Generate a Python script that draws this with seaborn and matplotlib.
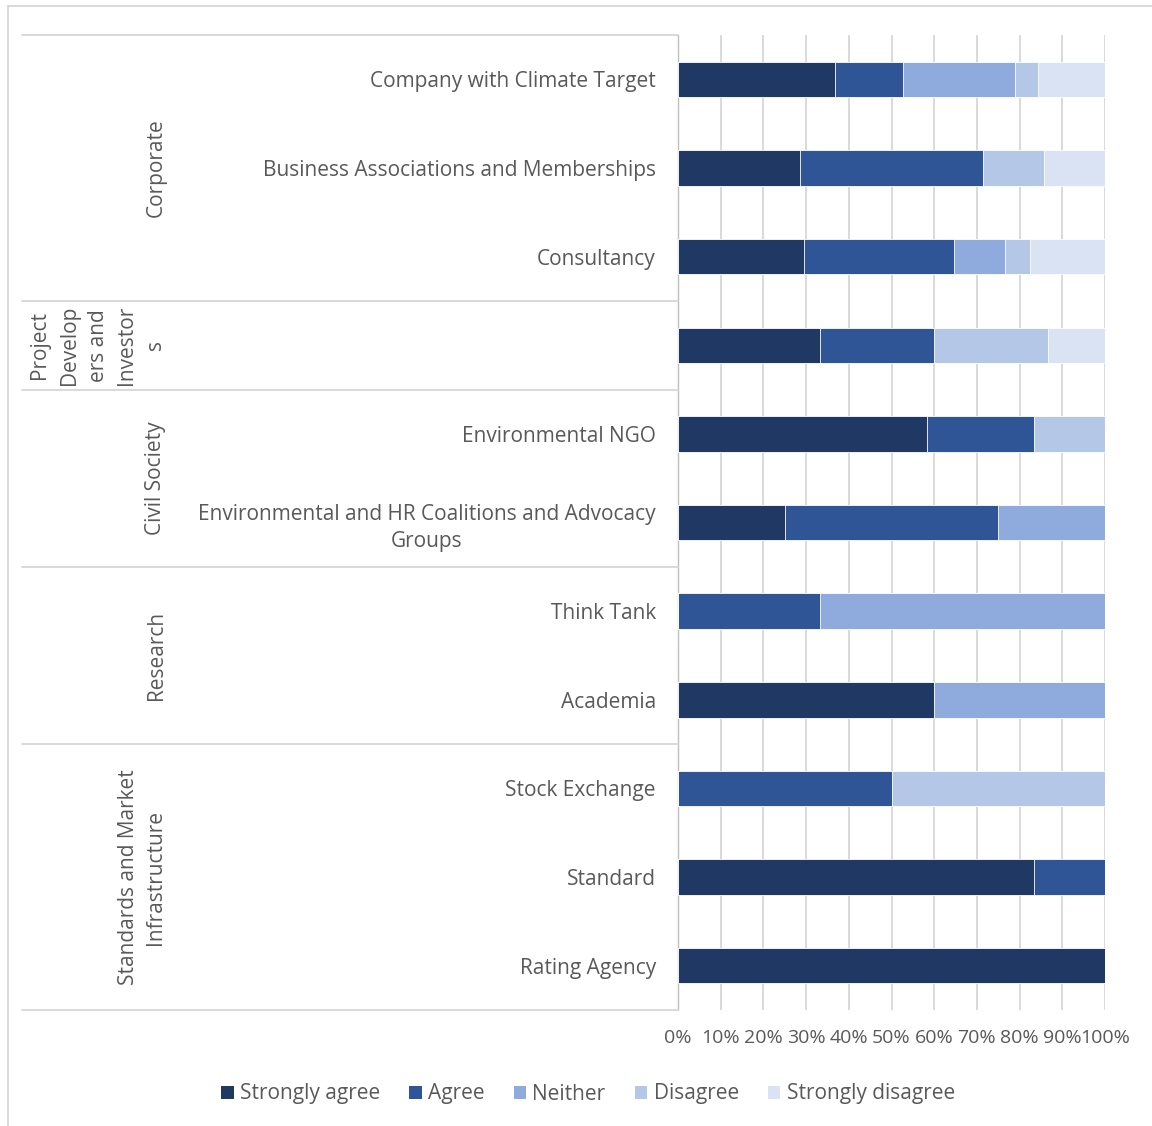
import matplotlib
matplotlib.use("Agg")
import matplotlib.pyplot as plt
import matplotlib.transforms as mtransforms
from matplotlib.lines import Line2D
from matplotlib.patches import Patch
import numpy as np
import pandas as pd
import seaborn as sns

# ---- data -------------------------------------------------------------
categories = [
    "Company with Climate Target",
    "Business Associations and Memberships",
    "Consultancy",
    "Project Developers and Investors",
    "Environmental NGO",
    "Environmental and HR Coalitions and Advocacy Groups",
    "Think Tank",
    "Academia",
    "Stock Exchange",
    "Standard",
    "Rating Agency",
]
tick_labels = [
    "Company with Climate Target",
    "Business Associations and Memberships",
    "Consultancy",
    "",
    "Environmental NGO",
    "Environmental and HR Coalitions and Advocacy\nGroups",
    "Think Tank",
    "Academia",
    "Stock Exchange",
    "Standard",
    "Rating Agency",
]
responses = ["Strongly agree", "Agree", "Neither", "Disagree", "Strongly disagree"]

strongly_agree    = [36.8, 28.6, 29.4, 33.3, 58.3, 25.0,  0.0, 60.0,  0.0, 83.3, 100.0]
agree             = [15.8, 42.9, 35.3, 26.7, 25.0, 50.0, 33.3,  0.0, 50.0, 16.7,   0.0]
neither           = [26.3,  0.0, 11.8,  0.0,  0.0, 25.0, 66.7, 40.0,  0.0,  0.0,   0.0]
disagree          = [ 5.3, 14.3,  5.9, 26.7, 16.7,  0.0,  0.0,  0.0, 50.0,  0.0,   0.0]
strongly_disagree = [15.8, 14.3, 17.6, 13.3,  0.0,  0.0,  0.0,  0.0,  0.0,  0.0,   0.0]

groups = ["Corporate", "Project\nDevelop\ners and\nInvestor\ns", "Civil Society",
          "Research", "Standards and Market\nInfrastructure"]
group_sizes = [3, 1, 2, 2, 3]

x_ticks = [0, 10, 20, 30, 40, 50, 60, 70, 80, 90, 100]

colors = ["#203864", "#2F5597", "#8FAADC", "#B4C7E7", "#DAE3F3"]
text_color = "#595959"
line_color = "#D9D9D9"
FS = 15

# ---- figure -----------------------------------------------------------
sns.set_theme(style="white")
plt.rcParams["font.family"] = ["Open Sans", "DejaVu Sans"]

W, H = 1152, 1126
fig = plt.figure(figsize=(W / 100, H / 100), dpi=100)
ax = fig.add_axes([678 / W, 1 - 1010 / H, 427 / W, 975 / H])

df = pd.DataFrame({
    "Category": categories,
    responses[0]: strongly_agree,
    responses[1]: agree,
    responses[2]: neither,
    responses[3]: disagree,
    responses[4]: strongly_disagree,
})
cum = df[responses].cumsum(axis=1)

# stacked bars: draw cumulative totals from the outermost segment inward
for resp, col in reversed(list(zip(responses, colors))):
    sns.barplot(x=cum[resp].values, y=df["Category"], color=col, orient="h",
                width=0.4, ax=ax, edgecolor="#FFFFFF", linewidth=0.6,
                saturation=1, zorder=3)

ax.set_xlim(0, 100)
ax.set_ylim(len(categories) - 0.5, -0.5)
ax.set_xticks(x_ticks)
ax.set_xticklabels([f"{t}%" for t in x_ticks], fontsize=14, color=text_color)
ax.set_yticks(range(len(categories)))
ax.set_yticklabels(tick_labels, fontsize=FS, color=text_color)
for lab in ax.get_yticklabels():
    lab.set_multialignment("center")
    lab.set_linespacing(1.4)
ax.tick_params(axis="y", length=0, pad=16)
ax.tick_params(axis="x", length=0, pad=14)
ax.set_xlabel("")
ax.set_ylabel("")

ax.grid(axis="x", color=line_color, linewidth=1.4, zorder=0)
ax.grid(axis="y", visible=False)
ax.set_axisbelow(True)
for side in ["top", "right", "bottom"]:
    ax.spines[side].set_visible(False)
ax.spines["left"].set_color("#BFBFBF")
ax.spines["left"].set_linewidth(1.0)

# ---- grouped category axis -------------------------------------------
trans = mtransforms.blended_transform_factory(fig.transFigure, ax.transData)
x_left = 22 / W
x_axis = 678 / W
bounds = np.concatenate([[0], np.cumsum(group_sizes)]) - 0.5
for b in bounds:
    fig.add_artist(Line2D([x_left, x_axis], [b, b], transform=trans,
                          color=line_color, linewidth=1.4))

group_x = [156, 98, 156, 156, 142]
group_spacing = [1.4, 1.5, 1.4, 1.4, 1.4]
for name, lo, hi, gx, ls in zip(groups, bounds[:-1], bounds[1:], group_x, group_spacing):
    fig.text(gx / W, (lo + hi) / 2, name, transform=trans, rotation=90,
             ha="center", va="center", multialignment="center",
             fontsize=FS, color=text_color, linespacing=ls)

# ---- outer frame -----------------------------------------------------
fig.add_artist(Line2D([8 / W, 8 / W], [0, 1 - 6 / H], transform=fig.transFigure,
                      color=line_color, linewidth=1.4))
fig.add_artist(Line2D([8 / W, 1], [1 - 6 / H, 1 - 6 / H], transform=fig.transFigure,
                      color=line_color, linewidth=1.4))

# ---- legend ----------------------------------------------------------
handles = [Patch(facecolor=c, edgecolor="none", label=r) for r, c in zip(responses, colors)]
leg = fig.legend(handles=handles, loc="center", ncol=5, frameon=False,
                 bbox_to_anchor=(588 / W, 1 - 1094 / H), fontsize=FS,
                 handlelength=0.6, handleheight=0.6, handletextpad=0.3,
                 columnspacing=1.4, labelcolor=text_color)

fig.savefig("out.png", dpi=100, facecolor="white")
